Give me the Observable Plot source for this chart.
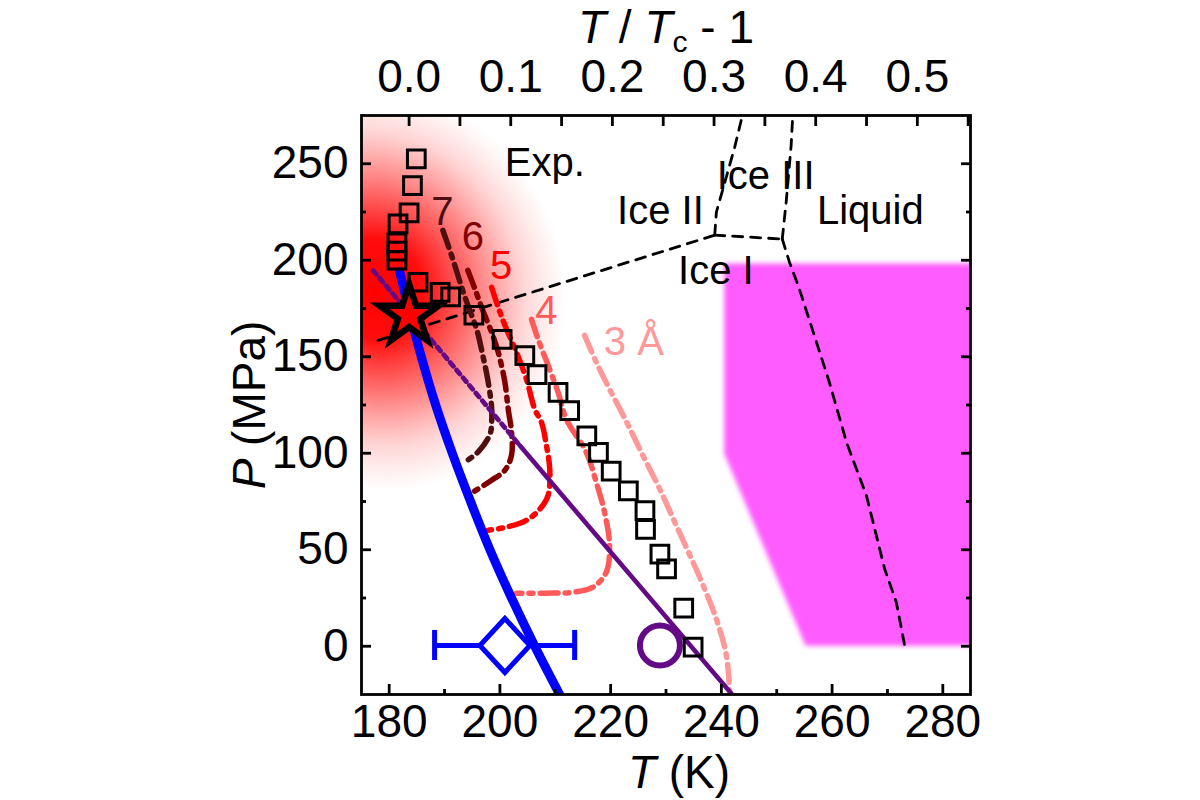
<!DOCTYPE html>
<html>
<head>
<meta charset="utf-8">
<script src="https://cdn.jsdelivr.net/npm/d3@7"></script>
<script src="https://cdn.jsdelivr.net/npm/@observablehq/plot@0.6"></script>
<style>
  html, body { margin: 0; padding: 0; background: #fff; }
  #chart { width: 1200px; height: 800px; }
</style>
</head>
<body>
<div id="chart"></div>
<script>
// ---------- data ----------
const Tc = 183.6;                       // critical temperature (K) for top axis
const xMajor = [180, 200, 220, 240, 260, 280];
const xMinor = [190, 210, 230, 250, 270];
const yMajor = [0, 50, 100, 150, 200, 250];
const yMinor = [25, 75, 125, 175, 225];
const topMajor = [0.0, 0.1, 0.2, 0.3, 0.4, 0.5];
const topMinor = [0.05, 0.15, 0.25, 0.35, 0.45, 0.55];

// experimental points (open squares)
const expT = [184.9, 184.2, 183.6, 181.6, 181.4, 181.4, 181.4, 185.2, 189.2, 191.1, 195.3, 200.4, 204.5, 206.7, 210.5, 212.6, 215.7, 217.8, 220.1, 223.2, 226.2, 226.3, 228.9, 230.1, 233.2, 234.9];
const expP = [252.5, 238.7, 224.5, 218.8, 209.0, 204.7, 200.0, 188.6, 183.4, 181.0, 171.5, 159.0, 150.6, 140.7, 131.6, 122.1, 109.0, 100.5, 90.7, 80.5, 70.3, 60.5, 47.7, 40.1, 19.8, -0.5];

// dash-dot curves for confinement sizes
const curve7 = [[189.7,215.5],[191.5,200.5],[192.8,188.6],[194.2,176.7],[195.8,164.2],[196.9,150.8],[197.8,138.3],[198.5,123.8],[198.5,116.1],[198.2,109.8],[196.0,100.5],[193.3,94.8]];
const curve6 = [[194.2,194.8],[195.5,185.0],[196.9,174.1],[198.5,162.7],[199.7,152.3],[200.9,136.8],[201.5,122.8],[202.1,110.9],[202.1,99.0],[200.9,91.2],[198.5,86.0],[195.1,79.8]];
const curve5 = [[198.5,186.0],[199.7,175.6],[200.9,166.3],[203.0,152.3],[204.8,138.3],[206.3,122.8],[207.5,116.1],[208.4,104.1],[209.0,91.7],[208.7,78.2],[207.2,71.0],[204.8,65.3],[201.2,61.7],[197.9,60.1]];
const curve4 = [[205.7,169.4],[206.9,159.1],[208.7,145.6],[210.5,131.6],[212.0,117.6],[215.6,100.5],[217.4,85.0],[218.9,69.4],[219.8,52.3],[219.2,38.3],[216.8,30.6],[213.2,28.0],[208.4,27.5],[203.0,27.5]];
const curve3 = [[215.3,161.1],[217.4,147.2],[219.8,133.2],[222.9,116.1],[225.8,99.0],[228.9,81.3],[231.6,64.2],[234.3,47.2],[236.7,31.6],[239.1,14.0],[240.9,-4.7],[241.5,-23.8]];
const curveColors = ["#4d0f0f", "#800000", "#ff0000", "#ff5a5a", "#ff9999"];
const curveLabels = ["7", "6", "5", "4", "3 Å"];
const curveLabelT = [189.6, 195.1, 200.2, 208.4, 224.2];
const curveLabelP = [224.8, 211.7, 196.9, 173.6, 157.4];

// thick blue line
const blueLine = [[181.9,194],[183.5,175],[185.8,150],[188.4,125],[191.4,100],[194.7,75],[198.2,50],[202.1,25],[206.3,0],[210.8,-25]];
// purple line: dotted part and solid part
const purpleDotted = [[177.1,194.7],[203.6,104.0]];
const purpleSolid = [[203.6,104.0],[242.1,-25.5]];

// phase boundaries (black dashed)
const boundaryIceIandII = [[178.0,158.5],[238.8,213.0]];
const boundaryIceIIandIII = [[238.8,213.0],[239.1,224.9],[242.4,258.5],[243.8,275]];
const boundaryIceIandIII = [[238.8,213.0],[251.0,211.0]];
const boundaryIceIIIandLiquid = [[251.0,211.0],[251.7,230.0],[252.6,259.4],[252.9,275]];
const boundaryIceIandLiquid = [[251.0,211.0],[252.3,199.0],[254.1,185.0],[259.5,136.8],[262.6,105.7],[266.2,78.0],[269.5,40.0],[271.6,22.8],[273.1,0.5]];

// magenta region
const regionT = [240.6, 255.3, 290];
const regionLow = [99.6, 0, 0];
const regionHigh = [198.1, 198.1, 198.1];

// single markers
const star = [{T: 183.6, P: 171.5}];
const diamond = [{T: 200.9, P: 0.4}];
const diamondErr = [{lo: 188.2, hi: 213.5, P: 0.4}];
const diamondCaps = [{T: 188.2, lo: -7.4, hi: 8.2}, {T: 213.5, lo: -7.4, hi: 8.2}];
const circle = [{T: 228.9, P: 0.4}];

// text annotations
const annotText = ["Exp.", "Ice II", "Ice III", "Liquid", "Ice I"];
const annotT = [208.1, 229.0, 248.0, 266.9, 239.0];
const annotP = [250.3, 225.4, 243.6, 225.4, 194.4];

// red glow centre and radii (data units)
const glowCenter = [177.5, 185];
const glowRadius = [34, 106];
const glowBox = [{x1: 175, x2: 285, y1: -25, y2: 275}];

// ---------- build ----------
const pts = a => a.map(([T, P]) => ({T, P}));
const expData = expT.map((T, i) => ({T, P: expP[i]}));
const curves = [curve7, curve6, curve5, curve4, curve3];
const region = regionT.map((T, i) => ({T, lo: regionLow[i], hi: regionHigh[i]}));
const annot = annotText.map((t, i) => ({t, T: annotT[i], P: annotP[i]}));
const cLabels = curveLabels.map((t, i) => ({t, T: curveLabelT[i], P: curveLabelP[i], c: curveColors[i]}));

const diamondSymbol = {
  draw(ctx, size) {
    const r = Math.sqrt(size / Math.PI);
    ctx.moveTo(0, -r * 1.08); ctx.lineTo(r, 0); ctx.lineTo(0, r * 1.08); ctx.lineTo(-r, 0); ctx.closePath();
  }
};

const dashed = {stroke: "black", strokeWidth: 2.8, strokeDasharray: "10,8", x: "T", y: "P", clip: true};
const FONT = "'Liberation Sans', Arial, Helvetica, sans-serif";

const marks = [
  Plot.rect(glowBox, {x1: "x1", x2: "x2", y1: "y1", y2: "y2", fill: "url(#glow)"}),
  Plot.areaY(region, {x: "T", y1: "lo", y2: "hi", fill: "#ff5cff", clip: true}),
  Plot.line(pts(boundaryIceIandII), dashed),
  Plot.line(pts(boundaryIceIIandIII), dashed),
  Plot.line(pts(boundaryIceIandIII), dashed),
  Plot.line(pts(boundaryIceIIIandLiquid), dashed),
  Plot.line(pts(boundaryIceIandLiquid), dashed),
  ...curves.map((c, i) => Plot.line(pts(c), {x: "T", y: "P", stroke: curveColors[i], strokeWidth: 5.5, strokeDasharray: "18,7,4,7", curve: "catmull-rom", clip: true})),
  Plot.line(pts(purpleDotted), {x: "T", y: "P", stroke: "#650a87", strokeWidth: 4.8, strokeDasharray: "5,5"}),
  Plot.line(pts(purpleSolid), {x: "T", y: "P", stroke: "#650a87", strokeWidth: 4.6, clip: true}),
  Plot.ruleY(diamondErr, {x1: "lo", x2: "hi", y: "P", stroke: "#0000ff", strokeWidth: 5}),
  Plot.ruleX(diamondCaps, {x: "T", y1: "lo", y2: "hi", stroke: "#0000ff", strokeWidth: 5}),
  Plot.dot(diamond, {x: "T", y: "P", symbol: diamondSymbol, r: 25, fill: "white", stroke: "#0000ff", strokeWidth: 5}),
  Plot.line(pts(blueLine), {x: "T", y: "P", stroke: "#0000ff", strokeWidth: 9, curve: "catmull-rom", clip: true}),
  Plot.dot(circle, {x: "T", y: "P", r: 20, fill: "none", stroke: "#650a87", strokeWidth: 6}),
  Plot.dot(expData, {x: "T", y: "P", symbol: "square", r: 10, fill: "none", stroke: "black", strokeWidth: 3}),
  Plot.dot(star, {x: "T", y: "P", symbol: "star", r: 18.5, fill: "#ff0000", stroke: "black", strokeWidth: 6.5}),
  Plot.text(annot, {x: "T", y: "P", text: "t", fontSize: 40, fill: "black"}),
  Plot.text(cLabels, {x: "T", y: "P", text: "t", fontSize: 40, fill: "c"}),
  Plot.frame({stroke: "black", strokeWidth: 2.8}),
  // bottom axis
  Plot.axisX(xMajor, {anchor: "bottom", tickSize: 0, tickPadding: 10, fontSize: 46, label: null}),
  Plot.axisX(xMajor, {anchor: "bottom", tickSize: -10, fill: "none", strokeWidth: 2.8, label: null}),
  Plot.axisX(xMinor, {anchor: "bottom", tickSize: -5, fill: "none", strokeWidth: 2.8, label: null}),
  // top axis (T/Tc - 1)
  Plot.axisX(topMajor.map(v => Tc * (1 + v)), {anchor: "top", tickSize: 0, tickPadding: 24, fontSize: 46, label: null, tickFormat: d => (d / Tc - 1).toFixed(1)}),
  Plot.axisX(topMajor.concat(topMinor).map(v => Tc * (1 + v)), {anchor: "top", tickSize: -10, fill: "none", strokeWidth: 2.8, label: null}),
  // left axis
  Plot.axisY(yMajor, {anchor: "left", tickSize: 0, tickPadding: 13, fontSize: 46, label: null}),
  Plot.axisY(yMajor, {anchor: "left", tickSize: -10, fill: "none", strokeWidth: 2.8, label: null}),
  Plot.axisY(yMinor, {anchor: "left", tickSize: -5, fill: "none", strokeWidth: 2.8, label: null}),
  // right axis ticks
  Plot.axisY(yMajor, {anchor: "right", tickSize: -10, fill: "none", strokeWidth: 2.8, label: null}),
  Plot.axisY(yMinor, {anchor: "right", tickSize: -5, fill: "none", strokeWidth: 2.8, label: null})
];

const chart = Plot.plot({
  width: 1200,
  height: 800,
  marginLeft: 361,
  marginRight: 230,
  marginTop: 115,
  marginBottom: 106,
  style: {fontFamily: FONT, background: "white", color: "black", overflow: "visible"},
  x: {domain: [175, 285]},
  y: {domain: [-25, 275]},
  marks
});

// gradient & filter definitions positioned through the plot's scales
const sx = chart.scale("x"), sy = chart.scale("y");
const cx = sx.apply(glowCenter[0]), cy = sy.apply(glowCenter[1]);
const rx = sx.apply(glowCenter[0] + glowRadius[0]) - cx;
const ry = sy.apply(glowCenter[1] - glowRadius[1]) - cy;
const ns = "http://www.w3.org/2000/svg";
const defs = document.createElementNS(ns, "defs");
defs.innerHTML = `
<radialGradient id="glow" gradientUnits="userSpaceOnUse" cx="0" cy="0" r="1" gradientTransform="translate(${cx},${cy}) rotate(-25) scale(${rx},${ry})">
  <stop offset="0" stop-color="#ff0000" stop-opacity="1"/>
  <stop offset="0.25" stop-color="#ff0000" stop-opacity="0.95"/>
  <stop offset="0.5" stop-color="#ff1010" stop-opacity="0.6"/>
  <stop offset="0.78" stop-color="#ff3030" stop-opacity="0.2"/>
  <stop offset="1" stop-color="#ff5050" stop-opacity="0"/>
</radialGradient>
<filter id="soft" x="-5%" y="-5%" width="110%" height="110%"><feGaussianBlur stdDeviation="2.5"/></filter>`;
chart.insertBefore(defs, chart.firstChild);
const areaG = chart.querySelector('g[aria-label="area"] path');
if (areaG) areaG.setAttribute("filter", "url(#soft)");

// axis titles (rich text)
const titles = document.createElementNS(ns, "g");
titles.setAttribute("font-family", FONT);
titles.setAttribute("font-size", "46");
titles.setAttribute("fill", "black");
titles.innerHTML = `
<text x="666" y="43" text-anchor="middle" style="white-space:pre"><tspan font-style="italic">T</tspan> / <tspan font-style="italic">T</tspan><tspan font-size="30" dy="9">c</tspan><tspan dy="-9"> - 1</tspan></text>
<text x="679" y="788" text-anchor="middle" style="white-space:pre"><tspan font-style="italic">T</tspan> (K)</text>
<text transform="translate(265,405) rotate(-90)" text-anchor="middle" style="white-space:pre"><tspan font-style="italic">P</tspan> (MPa)</text>`;
chart.appendChild(titles);

document.getElementById("chart").appendChild(chart);
</script>
</body>
</html>
